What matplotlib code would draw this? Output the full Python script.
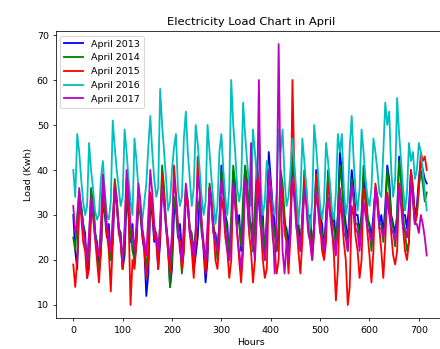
import numpy as np
import matplotlib.pyplot as plt

# hourly load sampled every 4 hours over April (30 days x 6 samples)
hours = np.arange(0, 720, 4)

load_2013 = [
    30, 22, 18, 34, 32, 28,  26, 16, 20, 30, 34, 26,  24, 18, 22, 33, 30, 25,
    28, 20, 24, 36, 32, 27,  26, 18, 21, 34, 30, 24,  28, 19, 24, 33, 30, 25,
    22, 12, 17, 32, 30, 24,  26, 18, 24, 37, 34, 28,  24, 14, 18, 30, 33, 26,
    28, 22, 24, 35, 32, 26,  24, 18, 21, 25, 34, 28,  22, 15, 20, 36, 32, 26,
    26, 22, 28, 41, 36, 30,  28, 20, 26, 38, 35, 28,  30, 22, 28, 40, 36, 29,
    28, 22, 30, 35, 33, 27,  30, 20, 28, 44, 38, 32,  28, 22, 26, 36, 34, 28,
    27, 23, 30, 42, 38, 30,  28, 24, 28, 36, 34, 28,  30, 22, 28, 40, 36, 30,
    28, 22, 30, 38, 34, 28,  30, 24, 30, 44, 40, 32,  28, 24, 32, 40, 36, 30,
    30, 26, 30, 38, 35, 29,  28, 25, 30, 36, 34, 28,  30, 26, 32, 41, 38, 30,
    28, 26, 30, 43, 38, 30,  30, 27, 32, 40, 36, 30,  32, 38, 42, 40, 38, 37,
]

load_2014 = [
    25, 22, 30, 35, 32, 28,  24, 19, 24, 36, 33, 27,  22, 17, 22, 34, 31, 26,
    25, 20, 26, 38, 34, 28,  24, 18, 24, 36, 32, 26,  22, 20, 25, 34, 31, 26,
    24, 18, 22, 35, 32, 27,  26, 20, 28, 41, 36, 28,  22, 14, 20, 34, 31, 25,
    24, 17, 22, 36, 33, 27,  26, 22, 26, 33, 31, 26,  23, 18, 24, 37, 34, 28,
    25, 20, 28, 40, 36, 29,  26, 22, 30, 41, 37, 29,  28, 23, 34, 41, 38, 31,
    27, 22, 32, 41, 37, 30,  28, 21, 30, 38, 36, 29,  26, 22, 28, 40, 37, 30,
    25, 20, 26, 44, 38, 30,  26, 22, 30, 40, 36, 29,  27, 22, 28, 38, 35, 28,
    26, 21, 28, 40, 36, 29,  27, 23, 30, 41, 37, 30,  26, 22, 30, 38, 34, 28,
    28, 24, 30, 41, 37, 30,  27, 22, 28, 36, 33, 28,  28, 24, 30, 40, 36, 29,
    27, 23, 30, 42, 38, 30,  26, 22, 24, 38, 34, 28,  30, 36, 40, 37, 33, 35,
]

load_2015 = [
    19, 14, 20, 32, 30, 24,  22, 16, 18, 34, 30, 25,  20, 15, 22, 36, 33, 26,
    22, 13, 24, 37, 33, 26,  24, 18, 26, 38, 30, 10,  20, 18, 24, 36, 32, 26,
    22, 16, 20, 35, 31, 25,  24, 18, 26, 39, 34, 27,  22, 17, 24, 41, 35, 27,
    24, 18, 22, 34, 32, 26,  22, 16, 24, 43, 36, 28,  24, 17, 22, 36, 33, 27,
    20, 18, 24, 34, 31, 25,  22, 16, 20, 36, 32, 26,  20, 15, 22, 38, 34, 26,
    22, 15, 20, 40, 35, 27,  20, 16, 18, 36, 32, 25,  22, 17, 20, 38, 34, 26,
    24, 17, 26, 60, 38, 28,  22, 17, 24, 38, 34, 27,  24, 20, 26, 39, 35, 28,
    22, 20, 24, 37, 34, 27,  21, 11, 18, 33, 30, 24,  20, 10, 14, 32, 30, 25,
    22, 16, 20, 36, 33, 26,  21, 15, 22, 37, 34, 27,  22, 16, 24, 35, 32, 26,
    21, 19, 22, 37, 34, 27,  22, 20, 24, 40, 36, 28,  30, 36, 44, 42, 43, 40,
]

load_2016 = [
    40, 34, 48, 44, 38, 33,  30, 32, 46, 40, 36, 31,  29, 30, 38, 42, 35, 30,
    29, 33, 51, 45, 40, 36,  32, 34, 49, 44, 38, 33,  30, 47, 42, 36, 31, 29,
    33, 37, 45, 52, 44, 38,  34, 36, 58, 50, 44, 38,  31, 33, 40, 45, 48, 36,
    32, 34, 47, 53, 44, 38,  32, 36, 50, 46, 40, 34,  30, 33, 50, 44, 38, 33,
    28, 32, 44, 48, 40, 34,  30, 36, 60, 50, 44, 36,  33, 36, 55, 48, 42, 37,
    32, 49, 44, 38, 49, 36,  30, 33, 42, 40, 36, 31,  30, 35, 49, 44, 49, 38,
    32, 34, 40, 47, 41, 35,  28, 34, 47, 42, 36, 30,  27, 33, 50, 45, 39, 32,
    29, 33, 46, 42, 37, 31,  29, 35, 48, 44, 48, 36,  30, 33, 45, 52, 42, 35,
    31, 36, 49, 44, 38, 34,  32, 36, 47, 44, 40, 35,  34, 44, 55, 50, 53, 40,
    34, 38, 56, 48, 42, 36,  31, 35, 46, 42, 44, 38,  40, 46, 44, 40, 35, 31,
]

load_2017 = [
    32, 26, 28, 36, 31, 27,  24, 20, 26, 34, 30, 25,  23, 21, 28, 39, 34, 28,
    25, 22, 30, 36, 33, 27,  24, 20, 27, 40, 35, 28,  26, 22, 28, 37, 33, 27,
    24, 21, 30, 40, 35, 28,  25, 22, 28, 36, 32, 27,  24, 20, 26, 38, 34, 28,
    22, 20, 28, 37, 33, 27,  24, 21, 27, 39, 35, 28,  23, 20, 28, 36, 32, 26,
    24, 22, 28, 38, 34, 27,  22, 20, 26, 37, 33, 26,  22, 18, 24, 38, 34, 27,
    46, 24, 20, 30, 60, 28,  24, 20, 26, 40, 36, 28,  17, 30, 68, 36, 22, 17,
    24, 20, 28, 38, 33, 27,  25, 22, 30, 36, 32, 26,  24, 20, 28, 35, 31, 26,
    25, 22, 28, 34, 30, 26,  24, 21, 27, 36, 32, 26,  25, 22, 30, 37, 33, 27,
    26, 22, 28, 33, 30, 27,  26, 24, 28, 36, 32, 27,  27, 25, 28, 34, 30, 27,
    26, 24, 28, 36, 32, 27,  27, 25, 30, 38, 33, 28,  28, 26, 30, 28, 25, 21,
]

series = [
    (load_2013, 'b', 'April 2013'),
    (load_2014, 'g', 'April 2014'),
    (load_2015, 'r', 'April 2015'),
    (load_2016, 'c', 'April 2016'),
    (load_2017, 'm', 'April 2017'),
]

fig = plt.figure(figsize=(6.4, 349 / 68.75), dpi=68.75)
ax = fig.add_axes([55.5 / 440, 31 / 349, 390.5 / 440, 287 / 349])

for values, color, label in series:
    ax.plot(hours, values, color=color, label=label, linewidth=1.9)

ax.set_xlim(-36, 755)
ax.set_ylim(7.1, 70.9)
ax.tick_params(axis='x', pad=5)
ax.set_title('Electricity Load Chart in April')
ax.set_xlabel('Hours', labelpad=3)
ax.set_ylabel('Load (Kwh)')
ax.legend(loc='upper left')

plt.savefig('out.png', dpi=68.75)
